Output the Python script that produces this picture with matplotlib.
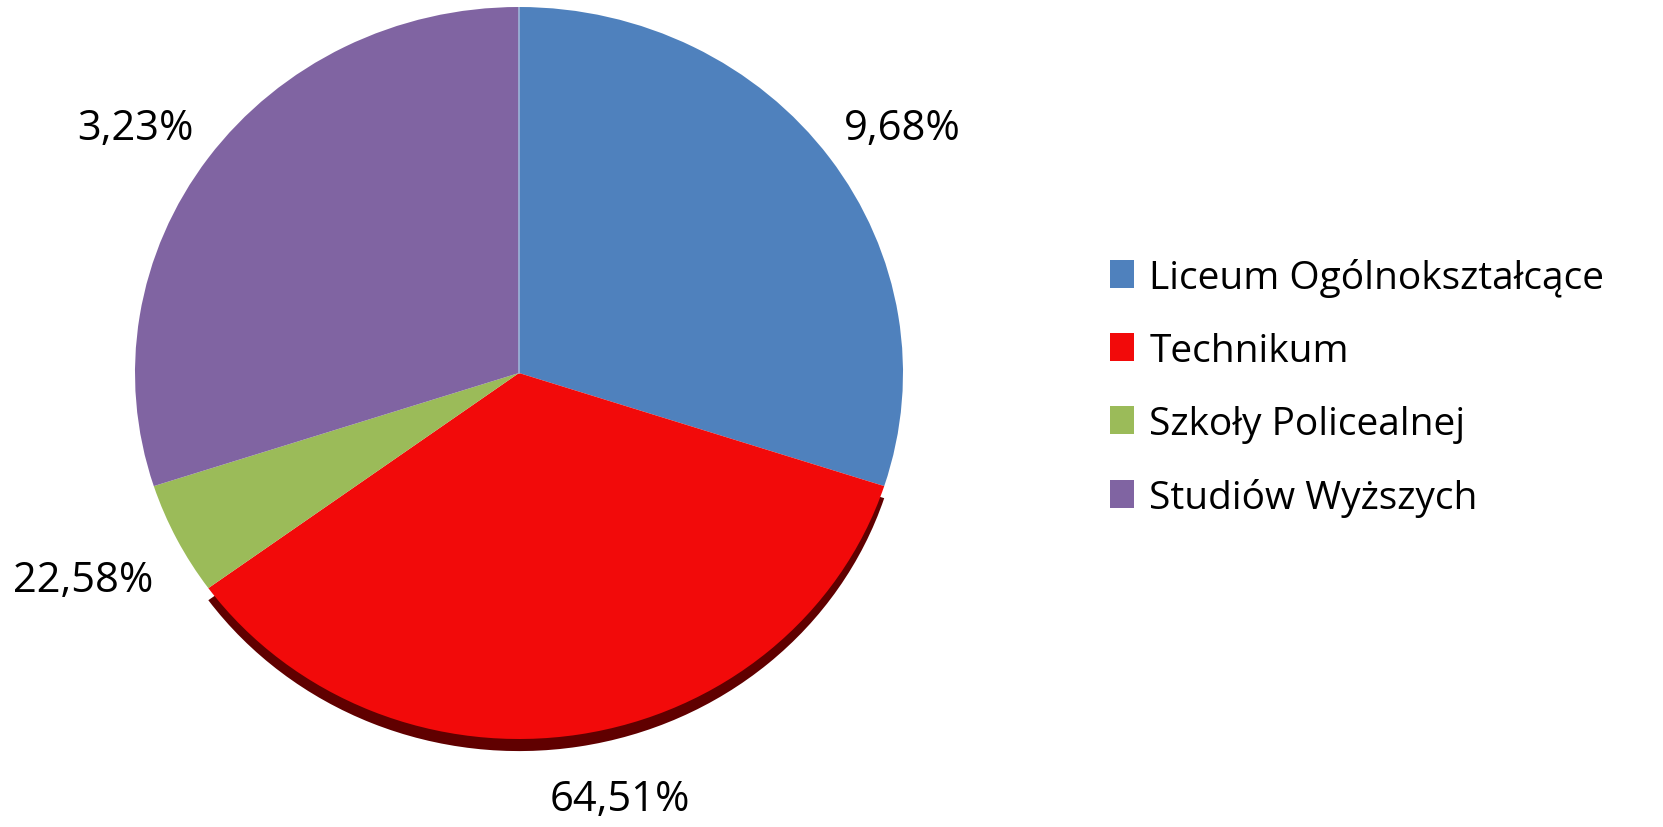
import matplotlib.pyplot as plt

# slice sizes as drawn, and the percentage texts printed on the chart
categories = ["Liceum Ogólnokształcące", "Technikum", "Szkoły Policealnej", "Studiów Wyższych"]
values = [6, 7, 1, 6]
pct_labels = ["9,68%", "64,51%", "22,58%", "3,23%"]
colors = ["#4F81BD", "#F20A0A", "#9BBB59", "#8064A2"]

plt.rcParams['font.family'] = ['Open Sans', 'DejaVu Sans']

W, H = 1663, 828
fig = plt.figure(figsize=(W / 100, H / 100), dpi=100)

# pie box in pixels (centre, radii)
cx, cy, rx, ry = 519, 374, 384, 366
ax = fig.add_axes([(cx - rx) / W, (H - cy - ry) / H, 2 * rx / W, 2 * ry / H])

# shadow under the red slice
shadow_cols = ["none", "#600000", "none", "none"]
ax.pie(values, colors=shadow_cols, startangle=90, counterclock=False,
       center=(0, -0.033), wedgeprops=dict(linewidth=0))
wedges, _ = ax.pie(values, colors=colors, startangle=90, counterclock=False,
                   wedgeprops=dict(linewidth=0))
ax.plot([0, 0], [0, 1], color="#9db4d8", lw=1.2, zorder=5)
ax.set_aspect('auto')
ax.set_xlim(-1, 1)
ax.set_ylim(-1, 1)
ax.axis('off')

# percentage labels (pixel positions)
label_pos = [(902, 129), (620, 800), (83, 581), (135, 129)]
for (x, y), t in zip(label_pos, pct_labels):
    fig.text(x / W, 1 - y / H, t, fontsize=30, ha='center', va='center')

fig.legend(wedges, categories, loc='upper left', bbox_to_anchor=(1094 / W, 1 - 243 / H),
           frameon=False, fontsize=28, handlelength=0.62, handleheight=0.7,
           handletextpad=0.4, labelspacing=0.9, borderaxespad=0)

fig.savefig("out.png", dpi=100)
